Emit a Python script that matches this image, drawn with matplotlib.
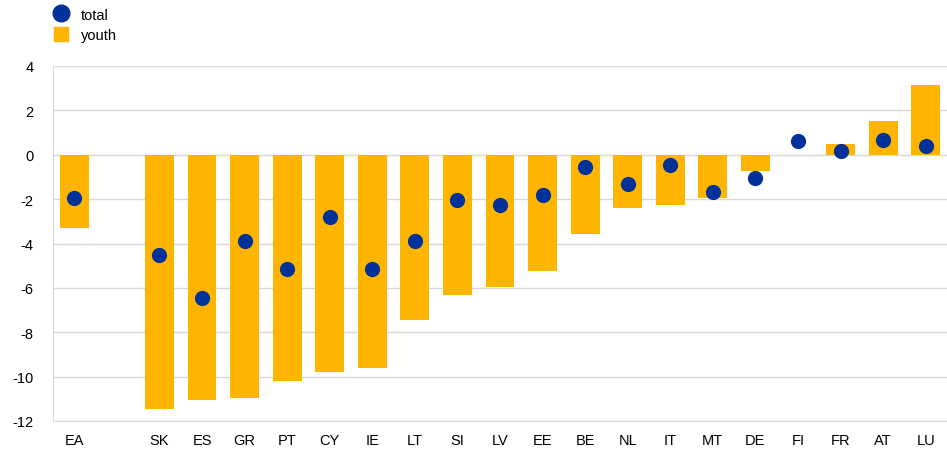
import matplotlib.pyplot as plt
from matplotlib.lines import Line2D
from matplotlib.patches import Patch

plt.rcParams['font.family'] = ['Liberation Sans', 'DejaVu Sans']
plt.rcParams['axes.unicode_minus'] = False

# countries; EA separated from the rest by an empty slot
countries = ["EA", "", "SK", "ES", "GR", "PT", "CY", "IE", "LT", "SI", "LV",
             "EE", "BE", "NL", "IT", "MT", "DE", "FI", "FR", "AT", "LU"]
youth = [-3.3, None, -11.45, -11.05, -10.95, -10.2, -9.8, -9.6, -7.45, -6.3, -5.95,
         -5.25, -3.55, -2.4, -2.25, -1.95, -0.75, 0.0, 0.5, 1.5, 3.15]
total = [-1.95, None, -4.5, -6.45, -3.9, -5.15, -2.8, -5.15, -3.9, -2.05, -2.25,
         -1.8, -0.55, -1.3, -0.45, -1.7, -1.05, 0.6, 0.15, 0.65, 0.4]

ORANGE = "#FFB400"
BLUE = "#003299"
GRID = "#D9D9D9"

fig = plt.figure(figsize=(9.47, 4.52), dpi=100)
ax = fig.add_axes([53 / 947, 1 - 422 / 452, 894 / 947, 355 / 452])

xs = [i for i, v in enumerate(youth) if v is not None]
ax.bar(xs, [youth[i] for i in xs], width=0.68, color=ORANGE, zorder=2)
ax.scatter(xs, [total[i] for i in xs], s=120, color=BLUE, zorder=3, linewidths=0)

ax.set_xlim(-0.5, len(countries) - 0.5)
ax.set_ylim(-12, 4)
ax.set_yticks(range(-12, 5, 2))
ax.set_xticks(range(len(countries)))
ax.set_xticklabels(countries)
ax.yaxis.grid(True, color=GRID, linewidth=1, zorder=0)
ax.set_axisbelow(True)
ax.tick_params(length=0, labelsize=10.5, colors="#000000")
ax.tick_params(axis="y", pad=14)
ax.tick_params(axis="x", pad=9)
for side in ["top", "right"]:
    ax.spines[side].set_visible(False)
for side in ["left", "bottom"]:
    ax.spines[side].set_color(GRID)

handles = [Line2D([], [], marker="o", linestyle="", color=BLUE, markersize=12),
           Patch(color=ORANGE)]
fig.legend(handles, ["total", "youth"], loc="upper left", bbox_to_anchor=(0.043, 1.012),
           frameon=False, fontsize=10.5, handlelength=1.0, handleheight=1.1,
           handletextpad=0.85, labelspacing=0.4)

fig.savefig("out.png", dpi=100)
